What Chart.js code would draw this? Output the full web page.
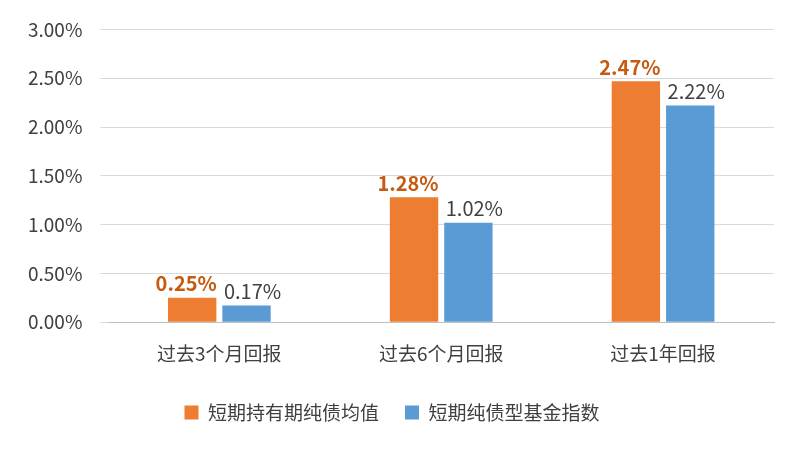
<!DOCTYPE html>
<html><head><meta charset="utf-8">
<script src="https://cdn.jsdelivr.net/npm/chart.js@4/dist/chart.umd.min.js"></script>
<style>html,body{margin:0;background:#fff}#w{width:796px;height:456px}</style>
</head><body><div id="w"><canvas id="c"></canvas></div>
<script>
const categories = ['过去3个月回报','过去6个月回报','过去1年回报'];
const seriesNames = ['短期持有期纯债均值','短期纯债型基金指数'];
const fundAvg = [0.25, 1.28, 2.47];
const indexVals = [0.17, 1.02, 2.22];
const F = '"Noto Sans CJK SC", "Noto Sans", sans-serif';
const labelPlugin = {
  id:'lbl',
  afterDatasetsDraw(chart){
    const ctx = chart.ctx;
    chart.data.datasets.forEach((ds,di)=>{
      chart.getDatasetMeta(di).data.forEach((bar,i)=>{
        ctx.save();
        ctx.font = (di===0?'bold ':'') + '20px ' + F;
        ctx.fillStyle = di===0 ? '#C55A11' : '#404040';
        ctx.textAlign='center'; ctx.textBaseline='bottom';
        ctx.fillText(ds.data[i].toFixed(2)+'%', bar.x + (di===0?-6:6), bar.y-4);
        ctx.restore();
      });
    });
  }
};
new Chart(document.getElementById('c'),{
  type:'bar',
  data:{labels:categories,datasets:[
    {label:seriesNames[0],data:fundAvg,backgroundColor:'#ED7D31'},
    {label:seriesNames[1],data:indexVals,backgroundColor:'#5B9BD5'}
  ]},
  options:{
    responsive:true,maintainAspectRatio:false,animation:false,
    layout:{padding:{left:10,right:22,top:18,bottom:24}},
    datasets:{bar:{categoryPercentage:0.49,barPercentage:0.89}},
    plugins:{
      legend:{position:'bottom',labels:{font:{family:F,size:19},color:'#404040',boxWidth:14,boxHeight:14,padding:26}},
      tooltip:{enabled:false}
    },
    scales:{
      x:{grid:{display:false},border:{color:'#BFBFBF'},ticks:{font:{family:F,size:19},color:'#404040',padding:12}},
      y:{min:0,max:3,ticks:{stepSize:0.5,callback:v=>v.toFixed(2)+'%',font:{family:F,size:19},color:'#404040',padding:18},
         grid:{color:'#D9D9D9'},border:{display:false}}
    }
  },
  plugins:[labelPlugin]
});
</script></body></html>
